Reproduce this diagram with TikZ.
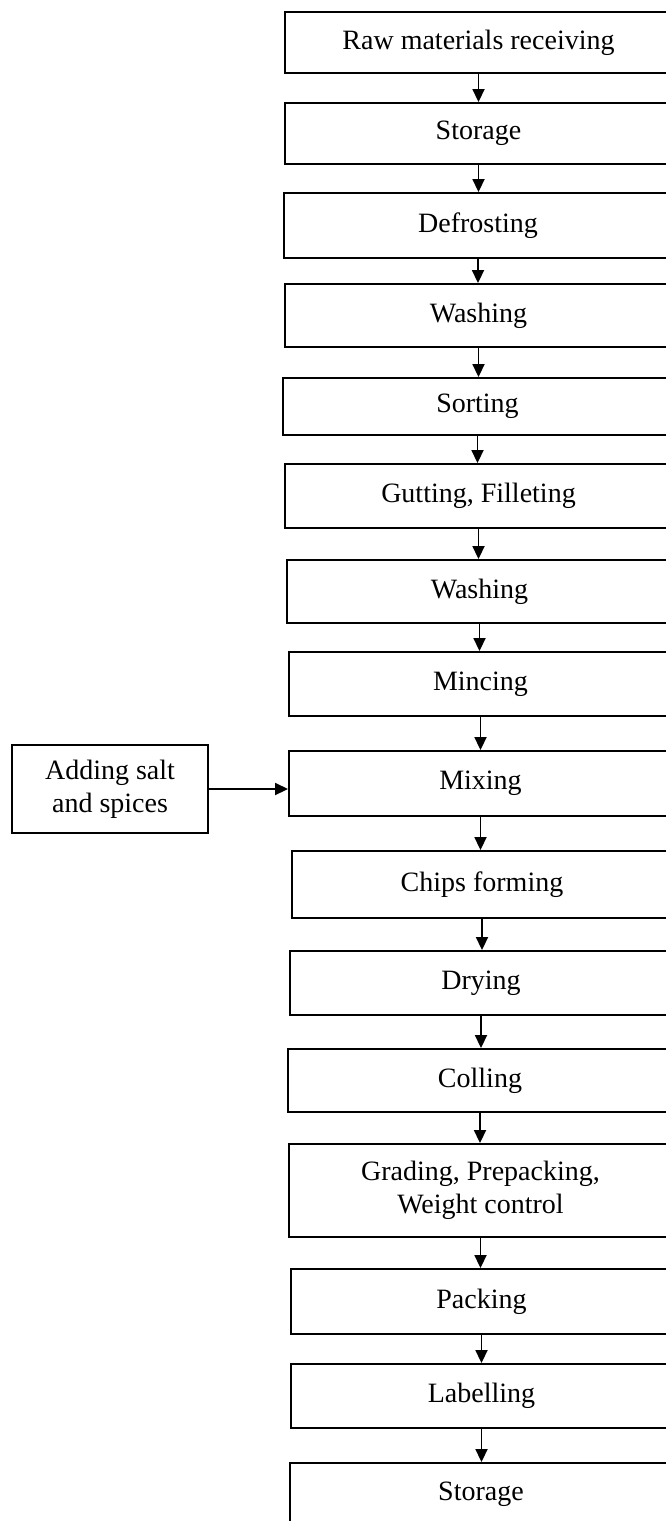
\documentclass[tikz,border=0pt]{standalone}
\usepackage{fontspec}
\setmainfont{Liberation Serif}
\usetikzlibrary{arrows.meta}
\begin{document}
\begin{tikzpicture}[x=1pt,y=-1pt,
  stepbox/.style={draw, line width=1.9pt, rectangle, inner sep=0pt, align=center,
    font=\fontsize{28}{33}\selectfont},
  flow/.style={line width=1.8pt, -{Triangle[length=13pt,width=12pt]}}]
\useasboundingbox (0,0) rectangle (666,1521);
\clip (0,0) rectangle (666,1521);

% process steps (boxes run past the right and bottom edge of the page)
\node[stepbox, minimum width=387pt, minimum height=61pt] (s1)  at (478.5,42.5)  {Raw materials receiving};
\node[stepbox, minimum width=387pt, minimum height=61pt] (s2)  at (478.5,133.5) {Storage};
\node[stepbox, minimum width=388pt, minimum height=65pt] (s3)  at (478,225.5)   {Defrosting};
\node[stepbox, minimum width=387pt, minimum height=63pt] (s4)  at (478.5,315.5) {Washing};
\node[stepbox, minimum width=389pt, minimum height=57pt] (s5)  at (477.5,406.5) {Sorting};
\node[stepbox, minimum width=387pt, minimum height=64pt] (s6)  at (478.5,496)   {Gutting, Filleting};
\node[stepbox, minimum width=385pt, minimum height=63pt] (s7)  at (479.5,591.5) {Washing};
\node[stepbox, minimum width=383pt, minimum height=64pt] (s8)  at (480.5,684)   {Mincing};
\node[stepbox, minimum width=383pt, minimum height=65pt] (s9)  at (480.5,783.5) {Mixing};
\node[stepbox, minimum width=380pt, minimum height=67pt] (s10) at (482,884.5)   {Chips forming};
\node[stepbox, minimum width=382pt, minimum height=64pt] (s11) at (481,983)     {Drying};
\node[stepbox, minimum width=384pt, minimum height=63pt] (s12) at (480,1080.5)  {Colling};
\node[stepbox, minimum width=383pt, minimum height=93pt] (s13) at (480.5,1190.5) {Grading, Prepacking,\\Weight control};
\node[stepbox, minimum width=381pt, minimum height=65pt] (s14) at (481.5,1301.5) {Packing};
\node[stepbox, minimum width=381pt, minimum height=64pt] (s15) at (481.5,1396)  {Labelling};
\node[stepbox, minimum width=382pt, minimum height=62pt] (s16) at (481,1494)    {Storage};

% side input
\node[stepbox, minimum width=196pt, minimum height=88pt] (add) at (110,789) {Adding salt\\and spices};

% connectors
\foreach \a/\b in {s1/s2,s2/s3,s3/s4,s4/s5,s5/s6,s6/s7,s7/s8,s8/s9,s9/s10,s10/s11,s11/s12,s12/s13,s13/s14,s14/s15,s15/s16}
  \draw[flow] (\a.south) -- (\a.south |- \b.north);
\draw[flow] (add.east) -- (add.east -| s9.west);
\end{tikzpicture}
\end{document}
